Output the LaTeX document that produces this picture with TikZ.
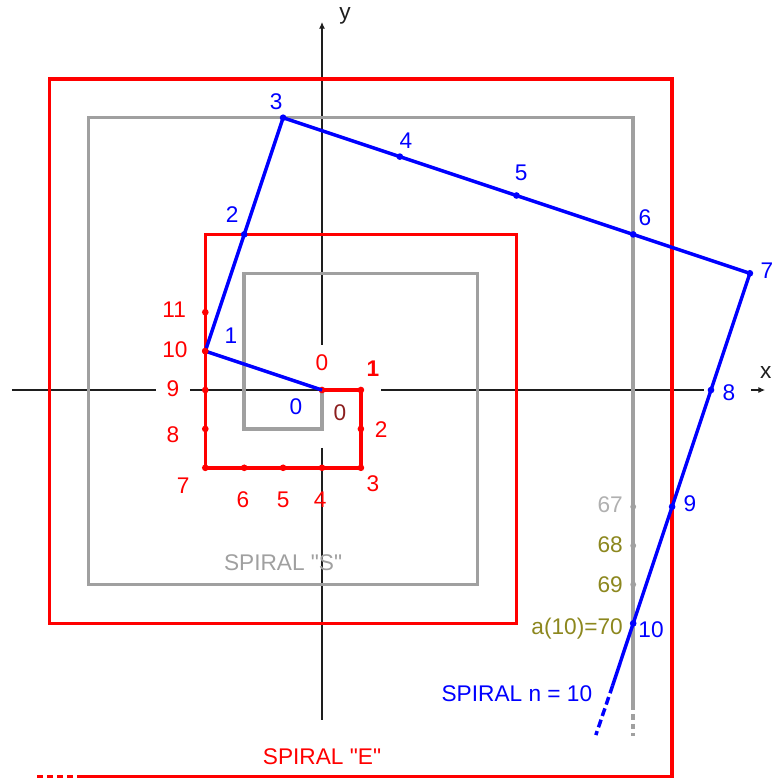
\documentclass[tikz,border=0pt]{standalone}
\usepackage{fontspec}
\setmainfont{Liberation Sans}
\newfontfamily\lblfont{Liberation Sans}
\usetikzlibrary{arrows.meta}
\definecolor{sgray}{RGB}{160,160,160}
\definecolor{lgray}{RGB}{176,176,176}
\definecolor{olivec}{RGB}{140,135,30}
\definecolor{maroonc}{RGB}{140,30,30}
\definecolor{axisc}{RGB}{30,30,30}
\begin{document}
\begin{tikzpicture}[x=29.175pt,y=29.175pt,
  axisline/.style={axisc, line width=0.8pt},
  espiral/.style={red, line width=2.6pt, line join=miter},
  sspiral/.style={sgray, line width=2.6pt, line join=miter},
  nspiral/.style={blue, line width=2.6pt, line join=round},
  lbl/.style={font=\lblfont\fontsize{17}{20}\selectfont, inner sep=0pt},
  rdot/.style={circle, fill=red, inner sep=0pt, minimum size=5pt},
  bdot/.style={circle, fill=blue, inner sep=0pt, minimum size=5pt},
  gdot/.style={circle, fill=sgray, inner sep=0pt, minimum size=4.4pt}]
\useasboundingbox (-8.278,-10.0) rectangle (11.568,10.026);
% ---------- coordinates ----------
\coordinate (o) at (0,0);
% red spiral E
\coordinate (r1) at (1,0);
\coordinate (r2) at (1,-1);
\coordinate (r3) at (1,-2);
\coordinate (r4) at (0,-2);
\coordinate (r5) at (-1,-2);
\coordinate (r6) at (-2,-2);
\coordinate (r7) at (-3,-2);
\coordinate (r8) at (-3,-1);
\coordinate (r9) at (-3,0);
\coordinate (r10) at (-3,1);
\coordinate (r11) at (-3,2);
\coordinate (ra) at (-3,4);
\coordinate (rb) at (5,4);
\coordinate (rc) at (5,-6);
\coordinate (rd) at (-7,-6);
\coordinate (re) at (-7,8);
\coordinate (rf) at (9,8);
\coordinate (rg) at (9,-9.93);
\coordinate (rh) at (-6.14,-9.93);
\coordinate (ri) at (-7.38,-9.93);
% gray spiral S
\coordinate (ga) at (0,-1);
\coordinate (gb) at (-2,-1);
\coordinate (gc) at (-2,3);
\coordinate (gd) at (4,3);
\coordinate (ge) at (4,-5);
\coordinate (gf) at (-6,-5);
\coordinate (gg) at (-6,7);
\coordinate (gh) at (8,7);
\coordinate (g67) at (8,-3);
\coordinate (g68) at (8,-4);
\coordinate (g69) at (8,-5);
\coordinate (g70) at (8,-6);
\coordinate (gi) at (8,-8.1);
\coordinate (gj) at (8,-8.9);
% blue spiral n=10
\coordinate (b1) at (-3,1);
\coordinate (b2) at (-2,4);
\coordinate (b3) at (-1,7);
\coordinate (b4) at (2,6);
\coordinate (b5) at (5,5);
\coordinate (b6) at (8,4);
\coordinate (b7) at (11,3);
\coordinate (b8) at (10,0);
\coordinate (b9) at (9,-3);
\coordinate (b10) at (8,-6);
\coordinate (bx) at (7.47,-7.6);
\coordinate (by) at (7.04,-8.87);
% axes
\coordinate (xa) at (-7.97,0);
\coordinate (xb) at (-4.27,0);
\coordinate (xc) at (-3.39,0);
\coordinate (xd) at (1.08,0);
\coordinate (xe) at (1.52,0);
\coordinate (xf) at (9.82,0);
\coordinate (xg) at (11.03,0);
\coordinate (xh) at (11.39,0);
\coordinate (ya) at (0,9.46);
\coordinate (yb) at (0,1.16);
\coordinate (yc) at (0,-1.49);
\coordinate (yd) at (0,-8.48);
% ---------- axes ----------
\draw[axisline] (xa) -- (xb);
\draw[axisline] (xc) -- (xd);
\draw[axisline] (xe) -- (xf);
\draw[axisline, -{Latex[length=5pt,width=4.5pt]}] (xg) -- (xh);
\draw[axisline, -{Latex[length=5pt,width=4.5pt]}] (yb) -- (ya);
\draw[axisline] (yc) -- (yd);
\node[lbl, axisc, anchor=east] (xlab) at (11.56,0.46) {x};
\node[lbl, axisc] (ylab) at (0.59,9.62) {y};
% ---------- spiral S ----------
\draw[sspiral] (o) -- (ga) -- (gb) -- (gc) -- (gd) -- (ge) -- (gf) -- (gg) -- (gh) -- (gi);
\draw[sspiral, dash pattern=on 4pt off 3pt] (gi) -- (gj);
\foreach \p in {g67,g68,g69,g70} \node[gdot] at (\p) {};
% ---------- spiral E ----------
\draw[espiral] (o) -- (r1) -- (r3) -- (r7) -- (ra) -- (rb) -- (rc) -- (rd) -- (re) -- (rf) -- (rg) -- (rh);
\draw[espiral, dash pattern=on 4.5pt off 3pt] (rh) -- (ri);
\foreach \p in {o,r1,r2,r3,r4,r5,r6,r7,r8,r9,r10,r11} \node[rdot] at (\p) {};
% ---------- spiral n = 10 ----------
\draw[nspiral] (o) -- (b1) -- (b2) -- (b3) -- (b4) -- (b5) -- (b6) -- (b7) -- (b8) -- (b9) -- (b10) -- (bx);
\draw[nspiral, dash pattern=on 6pt off 3pt] (bx) -- (by);
\foreach \p in {b2,b3,b4,b5,b6,b7,b8,b9,b10} \node[bdot] at (\p) {};
\node[rdot] at (b1) {};
% ---------- red labels ----------
\node[lbl, red] (lr0) at (0,0.69) {0};
\node[lbl, red, font=\lblfont\fontsize{17}{20}\selectfont\bfseries] (lr1) at (1.31,0.54) {1};
\node[lbl, maroonc] (lm0) at (0.46,-0.59) {0};
\node[lbl, red] (lr2) at (1.52,-1.03) {2};
\node[lbl, red] (lr3) at (1.31,-2.42) {3};
\node[lbl, red] (lr4) at (-0.05,-2.83) {4};
\node[lbl, red] (lr5) at (-1.0,-2.83) {5};
\node[lbl, red] (lr6) at (-2.03,-2.83) {6};
\node[lbl, red] (lr7) at (-3.57,-2.47) {7};
\node[lbl, red] (lr8) at (-3.83,-1.16) {8};
\node[lbl, red] (lr9) at (-3.83,0.03) {9};
\node[lbl, red] (lr10) at (-3.78,1.03) {10};
\node[lbl, red] (lr11) at (-3.80,2.06) {11};
% ---------- blue labels ----------
\node[lbl, blue] (lb0) at (-0.67,-0.44) {0};
\node[lbl, blue] (lb1) at (-2.34,1.39) {1};
\node[lbl, blue] (lb2) at (-2.31,4.52) {2};
\node[lbl, blue] (lb3) at (-1.18,7.40) {3};
\node[lbl, blue] (lb4) at (2.16,6.40) {4};
\node[lbl, blue] (lb5) at (5.12,5.58) {5};
\node[lbl, blue] (lb6) at (8.30,4.42) {6};
\node[lbl, blue] (lb7) at (11.44,3.06) {7};
\node[lbl, blue] (lb8) at (10.46,-0.08) {8};
\node[lbl, blue] (lb9) at (9.46,-2.93) {9};
\node[lbl, blue] (lb10) at (8.46,-6.17) {10};
% ---------- gray / olive labels ----------
\node[lbl, lgray, anchor=east] (l67) at (7.74,-2.96) {67};
\node[lbl, olivec, anchor=east] (l68) at (7.74,-3.98) {68};
\node[lbl, olivec, anchor=east] (l69) at (7.74,-5.01) {69};
\node[lbl, olivec, anchor=east] (l70) at (7.74,-6.14) {a(10)=70};
% ---------- titles ----------
\node[lbl, sgray] (ts) at (-1.0,-4.45) {SPIRAL "S"};
\node[lbl, blue] (tn) at (5.01,-7.81) {SPIRAL n = 10};
\node[lbl, red] (te) at (0,-9.43) {SPIRAL "E"};
\end{tikzpicture}
\end{document}
